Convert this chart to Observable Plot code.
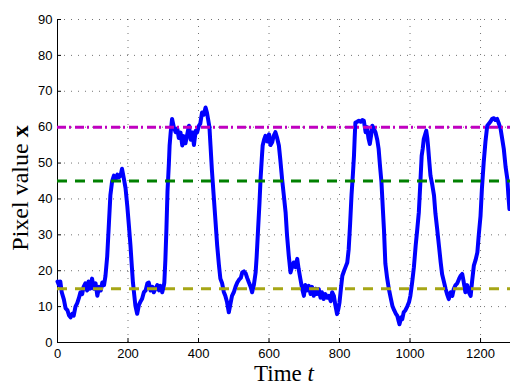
<!DOCTYPE html>
<html><head><meta charset="utf-8">
<script src="https://cdn.jsdelivr.net/npm/d3@7"></script>
<script src="https://cdn.jsdelivr.net/npm/@observablehq/plot@0.6"></script>
<style>body{margin:0;background:#fff} svg{display:block}</style>
</head><body><div id="chart"></div>
<script>
const timeT = [0,4,8,12,18,23,28,33,37,42,46,51,56,61,65,70,74,79,84,88,93,98,103,108,113,118,123,127,132,136,141,146,150,155,160,165,170,174,179,183,188,193,198,203,207,211,214,218,221,226,231,236,240,245,250,255,259,264,269,273,278,283,288,292,297,301,303,306,309,312,316,318,321,325,330,335,340,344,349,354,358,363,368,373,378,383,387,392,396,401,405,410,415,420,424,427,431,434,438,443,448,453,458,462,467,472,476,481,486,490,495,500,505,510,515,520,524,529,534,538,543,548,552,557,562,565,569,573,576,580,582,586,590,595,600,604,609,613,618,623,628,632,637,642,647,651,656,661,665,670,675,680,684,689,694,699,703,708,713,718,722,727,732,736,741,746,750,755,760,765,770,775,779,784,788,793,797,800,804,808,813,817,822,826,830,834,838,841,843,845,850,855,860,865,869,874,878,882,886,890,893,898,902,907,911,915,919,923,926,930,935,940,945,950,955,960,964,967,970,975,978,982,987,992,997,1001,1006,1011,1016,1020,1025,1029,1033,1036,1039,1043,1046,1049,1051,1055,1058,1063,1068,1072,1077,1082,1087,1091,1096,1101,1105,1110,1115,1120,1124,1129,1134,1139,1143,1148,1152,1157,1162,1167,1172,1176,1181,1186,1191,1195,1200,1204,1209,1214,1219,1224,1228,1233,1238,1242,1247,1252,1257,1261,1266,1271,1276,1279,1282];
const pixelX = [17,16,17,14,12,9.5,9,7.5,7,8,7.5,10,11,12.5,14,13.5,15.5,16.5,14.5,17,15,17.8,15,16.5,13,15.5,14.5,16.7,16,18.5,24,33.5,41,45,46.5,45.5,46.8,46,46.5,48.4,45.8,43,38,32,27,21,16.7,13,10.2,8,10.5,11.5,12.2,14,14.5,16.5,16.7,14.5,15.5,14,15,16,14.5,15.8,14,15.5,16.7,23,31.7,42,50,54.9,58.5,62.3,60,58.6,59.5,57,58.5,54.9,57.5,55.5,58,60.4,56.5,58.5,55,59,58.5,60.4,61,64.1,63.5,65.5,64,62.3,60,54.9,48,41,34,27,21.5,17.8,16.5,14,13,11.2,8.4,10.5,13,14,15.5,16.7,17.5,18,19.5,19.8,19.2,18,16.7,15.5,14,16,19.5,24,31.6,39,45.6,52,54.9,56.5,57.6,56,58,55,55.8,57.5,58.6,57,54.9,51,45.6,41,36.3,30,24.2,19.5,21,22.3,21,23.3,20.5,17.7,15,13,16,14.5,15.8,13.5,15.5,13,15,13.5,14.9,12.5,14,12.1,13.5,12.5,13,11.5,14,13,10.5,7.9,9.5,11.2,15,18.6,20,21,22.3,26,33,41,47,52,57,61.3,61.5,61.8,61.5,62,61.8,58.6,60,57,55.3,58,60.4,59.5,58.6,56.5,53.9,49,44.6,37,31.6,22,18,14.9,12.5,10.2,9,8,7.4,6.2,5.1,7,6.5,8.4,9,10,11.2,13,16.7,21,27,31,36.3,44,52,54,56.7,58,59,57,54.9,50,46.5,44,41,36,31.6,27,22.3,19,17,14.9,13.5,12.1,14,13,14.9,16,16.5,17.7,18.5,19.1,17,14,16,14,13,17,21.4,23,25.1,30,35.3,43,50.2,56,60.4,61,61.5,62.3,62.5,62,62.3,61,59.5,57,53.9,49,45.6,41,37.2];
const levels = [15, 45, 60];
const levelColors = ["#a6a616", "#008000", "#c000c0"];
const levelDashes = ["10,8", "10,8", "9,3,2,4"];
const xTicks = [0,200,400,600,800,1000,1200];
const yTicks = [0,10,20,30,40,50,60,70,80,90];
const xTitle = "Time ", xTitleVar = "t";
const yTitle = "Pixel value ", yTitleVar = "x";

const series = timeT.map((t, i) => ({t, v: pixelX[i]}));
const gridStyle = {stroke: "#000", strokeOpacity: 0.55, strokeDasharray: "1,6"};
const fmt = d3.format("d");

const chart = Plot.plot({
  width: 510, height: 387,
  marginLeft: 57, marginRight: 0, marginTop: 19, marginBottom: 45,
  style: {fontFamily: "'Liberation Sans', Arial, sans-serif", fontSize: "13px", color: "#000", background: "#fff", overflow: "visible"},
  x: {domain: [0, 1285]},
  y: {domain: [0, 90]},
  marks: [
    Plot.gridX(xTicks, gridStyle),
    Plot.gridY(yTicks, gridStyle),
    Plot.axisX(xTicks, {tickSize: 0, tickPadding: 6, tickFormat: fmt, label: null}),
    Plot.axisX(xTicks, {tickSize: -4, tickFormat: () => "", label: null}),
    Plot.axisY(yTicks, {tickSize: 0, tickPadding: 5, tickFormat: fmt, label: null}),
    Plot.axisY(yTicks, {tickSize: -4, tickFormat: () => "", label: null}),
    Plot.ruleX([0], {stroke: "#000"}),
    Plot.ruleY([0], {stroke: "#000"}),
    Plot.line(series, {x: "t", y: "v", stroke: "#0000ff", strokeWidth: 4, strokeLinejoin: "round", strokeLinecap: "round"}),
    ...levels.map((l, i) => Plot.ruleY([l], {stroke: levelColors[i], strokeWidth: 3, strokeDasharray: levelDashes[i]}))
  ]
});

const svg = d3.select(chart);
const serif = "'Liberation Serif', 'Times New Roman', serif";
const xt = svg.append("text").attr("x", 284).attr("y", 381).attr("text-anchor", "middle")
  .attr("font-family", serif).attr("font-size", 23).attr("fill", "#000");
xt.append("tspan").text(xTitle);
xt.append("tspan").attr("font-style", "italic").text(xTitleVar);
const yt = svg.append("text").attr("transform", "translate(28,188) rotate(-90)").attr("text-anchor", "middle")
  .attr("font-family", serif).attr("font-size", 24).attr("fill", "#000");
yt.append("tspan").text(yTitle);
yt.append("tspan").attr("font-weight", "bold").text(yTitleVar);

document.getElementById("chart").appendChild(chart);
</script>
</body></html>
